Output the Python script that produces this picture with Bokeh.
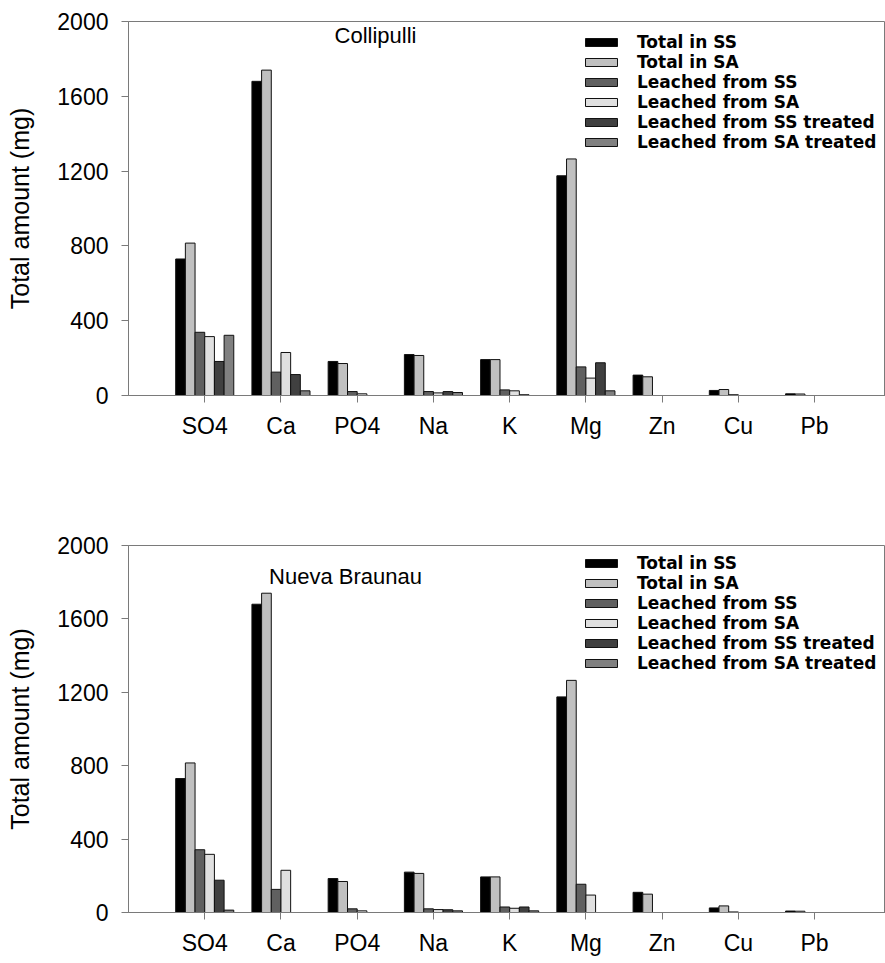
from bokeh.plotting import figure
from bokeh.models import Range1d, FixedTicker, Legend, LegendItem, Label
from bokeh.layouts import column
from bokeh.embed import file_html
from bokeh.resources import INLINE

categories = ["SO4", "Ca", "PO4", "Na", "K", "Mg", "Zn", "Cu", "Pb"]
series_names = ["Total in SS", "Total in SA", "Leached from SS", "Leached from SA",
                "Leached from SS treated", "Leached from SA treated"]
colors = ["#000000", "#c0c0c0", "#606060", "#e0e0e0", "#404040", "#808080"]
y_ticks = [0, 400, 800, 1200, 1600, 2000]

# Collipulli
col_total_ss = [730, 1680, 182, 219, 192, 1175, 109, 27, 9]
col_total_sa = [815, 1740, 171, 214, 192, 1265, 100, 32, 8]
col_leached_ss = [338, 125, 21, 21, 30, 153, 0, 4, 0]
col_leached_sa = [315, 230, 9, 14, 25, 93, 0, 0, 0]
col_treated_ss = [182, 112, 0, 21, 4, 175, 0, 0, 0]
col_treated_sa = [322, 25, 0, 16, 0, 25, 0, 0, 0]

# Nueva Braunau
nb_total_ss = [730, 1680, 185, 220, 194, 1175, 110, 25, 8]
nb_total_sa = [815, 1740, 169, 213, 194, 1265, 100, 36, 7]
nb_leached_ss = [342, 126, 20, 20, 30, 154, 0, 3, 0]
nb_leached_sa = [317, 230, 9, 16, 23, 95, 0, 0, 0]
nb_treated_ss = [176, 0, 0, 15, 30, 0, 0, 0, 0]
nb_treated_sa = [13, 0, 0, 9, 9, 0, 0, 0, 0]

FONT = "Liberation Sans"
BAR_W = 0.127
AXIS_COL = "#7a7a7a"


def make_fig(title, series, height, border_top, border_bottom, title_x, title_y, legend_top):
    frame_h = height - border_top - border_bottom
    p = figure(width=885, height=height, output_backend="svg", toolbar_location=None,
               x_range=Range1d(0, 9.93), y_range=Range1d(0, 2000),
               min_border_left=128, min_border_right=0,
               min_border_top=border_top, min_border_bottom=border_bottom)
    p.xgrid.visible = False
    p.ygrid.visible = False
    p.outline_line_color = AXIS_COL
    p.background_fill_color = "white"

    xs = list(range(1, len(categories) + 1))
    items = []
    n = len(series)
    for i, (vals, name, col) in enumerate(zip(series, series_names, colors)):
        off = (i - (n - 1) / 2) * BAR_W
        r = p.vbar(x=[x + off for x in xs], top=vals, width=BAR_W, bottom=0,
                   fill_color=col, line_color="#111111", line_width=1)
        items.append(LegendItem(label=name, renderers=[r]))

    legend = Legend(items=items, location=(451, frame_h - legend_top - 6 * 20 - 4),
                    glyph_width=40, glyph_height=10, label_standoff=16,
                    label_text_font="DejaVu Sans", label_text_font_style="bold",
                    label_text_font_size="17px", label_text_color="black",
                    label_height=19, spacing=0,
                    padding=2, margin=0, border_line_alpha=0, background_fill_alpha=0)
    p.add_layout(legend, "center")

    p.add_layout(Label(x=title_x, y=frame_h - title_y, x_units="screen", y_units="screen",
                       text=title, text_font=FONT, text_font_size="22px",
                       text_align="center", text_baseline="middle", text_color="black"))

    # axes
    p.xaxis.ticker = FixedTicker(ticks=xs)
    p.xaxis.major_label_overrides = {x: c for x, c in zip(xs, categories)}
    p.yaxis.ticker = FixedTicker(ticks=y_ticks)
    for ax in (p.xaxis, p.yaxis):
        ax.axis_line_color = AXIS_COL
        ax.major_tick_line_color = AXIS_COL
        ax.minor_tick_line_color = None
        ax.major_tick_in = 0
        ax.major_tick_out = 7
        ax.major_label_text_font = FONT
        ax.major_label_text_font_size = "23px"
        ax.major_label_text_color = "black"
    p.xaxis.major_label_standoff = 10
    p.yaxis.major_label_standoff = 13
    p.yaxis.axis_label = "Total amount (mg)"
    p.yaxis.axis_label_text_font = FONT
    p.yaxis.axis_label_text_font_size = "25px"
    p.yaxis.axis_label_text_font_style = "normal"
    p.yaxis.axis_label_text_color = "black"
    p.yaxis.axis_label_standoff = 20
    return p


p1 = make_fig("Collipulli",
              [col_total_ss, col_total_sa, col_leached_ss, col_leached_sa, col_treated_ss, col_treated_sa],
              height=470, border_top=21, border_bottom=75, title_x=247, title_y=14, legend_top=9)
p2 = make_fig("Nueva Braunau",
              [nb_total_ss, nb_total_sa, nb_leached_ss, nb_leached_sa, nb_treated_ss, nb_treated_sa],
              height=488, border_top=75, border_bottom=40, title_x=217, title_y=37, legend_top=12)

layout = column(p1, p2)
open("out.html", "w").write(file_html(layout, INLINE))
